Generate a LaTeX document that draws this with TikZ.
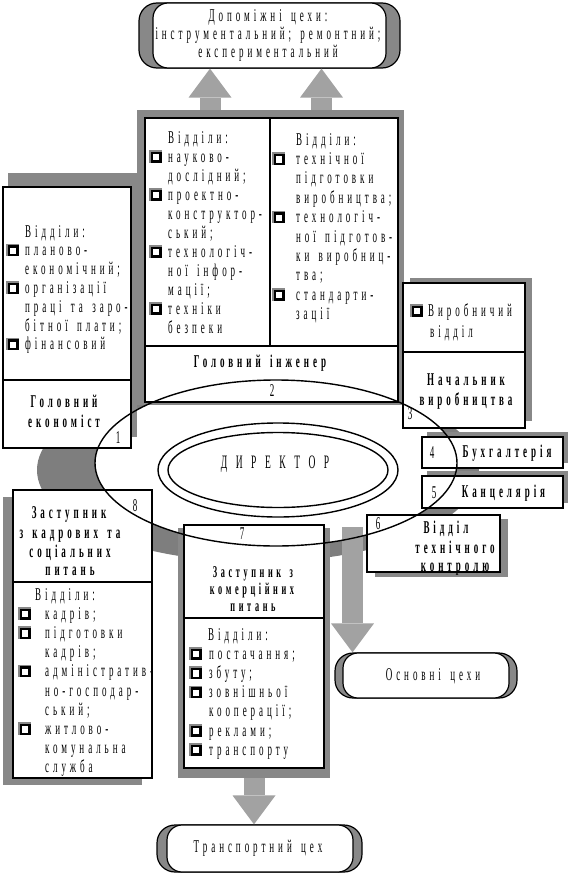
\documentclass[tikz,border=0pt]{standalone}
\usepackage{fontspec}
\setmainfont{Liberation Serif}
\newfontfamily\rf[FakeStretch=0.5,LetterSpace=22,WordSpace=1.5]{Liberation Serif}
\newfontfamily\dirf[FakeStretch=0.5,LetterSpace=45]{Liberation Serif}
\usetikzlibrary{arrows.meta}
\definecolor{sh}{HTML}{888888}
\definecolor{ring}{HTML}{7E7E7E}
\definecolor{ar}{HTML}{A2A2A2}
\begin{document}
\begin{tikzpicture}[x=1pt,y=-1pt,
  txt/.style={inner sep=0pt, font=\rf\fontsize{18}{19}\selectfont},
  btxt/.style={inner sep=0pt, font=\rf\bfseries\fontsize{18}{19}\selectfont},
  sbtxt/.style={inner sep=0pt, font=\rf\bfseries\fontsize{16.5}{17}\selectfont},
  box/.style={draw, line width=1.4pt, fill=white, inner sep=0pt},
  pillout/.style={draw, line width=1.2pt, fill=sh, rounded corners=18pt, inner sep=0pt},
  pillin/.style={draw, line width=1.2pt, fill=white, rounded corners=15pt, inner sep=0pt},
  bigarr/.style={draw=ar, line width=21pt, -{Triangle[length=29pt,width=43pt,line width=0pt,fill=ar]}},
  bul/.pic={\fill[sh] (-7,-7) rectangle (5.5,5.5); \draw[line width=2.4pt, fill=white] (-4.3,-4.3) rectangle (4.3,4.3);},
  sep/.style={line width=1.4pt}
]
\useasboundingbox (0,0) rectangle (571,875);

% grey ring and main ellipse background
\fill[ring] (258,470) ellipse [x radius=221, y radius=92];
\fill[white] (276,463) ellipse [x radius=181, y radius=83];

% top pill
\node[pillout, minimum width=261pt, minimum height=65pt] (topO) at (269.5,35.5) {};
\node[pillin, minimum width=233pt, minimum height=65pt] (top) at (269.5,35.5) {};
\node[txt, anchor=base] (t1) at (268,22) {Допоміжні цехи:};
\node[txt, anchor=base] (t2) at (268,40) {інструментальний; ремонтний;};
\node[txt, anchor=base] (t3) at (268,58) {експериментальний};

% chief engineer box
\fill[sh] (137,110) rectangle (404,405);
\node[box, minimum width=253pt, minimum height=284pt] (eng) at (271.5,260) {};
\draw[sep] (270,118) -- (270,346);
\draw[sep] (145,346) -- (398,346);
\foreach \t [count=\i from 0] in {Відділи:, науково-, дослідний;, проектно-, конструктор-, ський;, технологіч-, ної інфор-, мації;, техніки, безпеки}
  \node[txt, anchor=base west] (el\i) at (168, 143+19*\i) {\t};
\foreach \i in {1,3,6,9} \pic at (156, 138+19*\i) {bul};
\foreach \t [count=\i from 0] in {Відділи:, технічної, підготовки, виробництва;, технологіч-, ної підготов-, ки виробниц-, тва;, стандарти-, зації}
  \node[txt, anchor=base west] (er\i) at (296, 145+19.4*\i) {\t};
\foreach \i in {1,4,8} \pic at (279, 140+19.4*\i) {bul};
\node[btxt, anchor=base] (engt) at (260,367) {Головний інженер};

% chief economist box
\fill[sh] (8,173) rectangle (137,437);
\node[box, minimum width=128pt, minimum height=261pt] (econ) at (67,317.5) {};
\draw[sep] (3,380) -- (131,380);
\foreach \t [count=\i from 0] in {Відділи:, планово-, економічний;, організації, праці та заро-, бітної плати;, фінансовий}
  \node[txt, anchor=base west] (ec\i) at (25, 237+18.8*\i) {\t};
\foreach \i in {1,3,6} \pic at (13, 232+18.8*\i) {bul};
\node[btxt, anchor=base] (econt1) at (64,407) {Головний};
\node[btxt, anchor=base] (econt2) at (64,427) {економіст};

% production head box
\fill[sh] (410,278) rectangle (532,421);
\node[box, minimum width=122pt, minimum height=145pt] (nach) at (464,355.5) {};
\draw[sep] (403,352) -- (525,352);
\pic at (417,311) {bul};
\node[txt, anchor=base west] (na1) at (428,316) {Виробничий};
\node[txt, anchor=base west] (na2) at (430,337) {відділ};
\node[btxt, anchor=base] (nat1) at (466,385) {Начальник};
\node[btxt, anchor=base] (nat2) at (466,405) {виробництва};

% accounting
\fill[sh] (427,432) rectangle (568,463);
\node[box, minimum width=141pt, minimum height=31pt] (buh) at (492.5,452.5) {};
\node[btxt, anchor=base] (buht) at (507,457) {Бухгалтерія};
% office
\fill[sh] (427,471) rectangle (568,503);
\node[box, minimum width=141pt, minimum height=32pt] (kanc) at (492.5,492) {};
\node[btxt, anchor=base] (kanct) at (503.5,497) {Канцелярія};

% technical control
\fill[sh] (375,519) rectangle (508,577);
\node[box, minimum width=133pt, minimum height=57pt] (vtk) at (433.5,543.5) {};
\node[btxt, anchor=base] (vt1) at (446,533) {Відділ};
\node[btxt, anchor=base] (vt2) at (455,553) {технічного};
\node[btxt, anchor=base] (vt3) at (455,571) {контролю};

% commercial deputy
\fill[sh] (178,528) rectangle (330,778);
\node[box, minimum width=140pt, minimum height=243pt] (zk) at (254,646.5) {};
\draw[sep] (184,618) -- (324,618);
\node[sbtxt, anchor=base] (zkt1) at (253,577) {Заступник з};
\node[sbtxt, anchor=base] (zkt2) at (252,594) {комерційних};
\node[sbtxt, anchor=base] (zkt3) at (253,611) {питань};
\node[txt, anchor=base west] (zh) at (208,640) {Відділи:};
\foreach \t [count=\i from 1] in {постачання;, збуту;, зовнішньої, кооперації;, реклами;, транспорту}
  \node[txt, anchor=base west] (zl\i) at (209, 640+19.2*\i) {\t};
\foreach \i in {1,2,3,5,6} \pic at (196, 635+19.2*\i) {bul};

% personnel deputy
\fill[sh] (3,497) rectangle (142,785);
\node[box, minimum width=139pt, minimum height=288pt] (zkad) at (82.5,634) {};
\draw[sep] (13,582) -- (152,582);
\node[btxt, anchor=base] (kt1) at (69,518) {Заступник};
\node[btxt, anchor=base] (kt2) at (70,538) {з кадрових та};
\node[btxt, anchor=base] (kt3) at (70,557) {соціальних};
\node[btxt, anchor=base] (kt4) at (70,575) {питань};
\node[txt, anchor=base west] (kh) at (35,600) {Відділи:};
\foreach \t [count=\i from 1] in {кадрів;, підготовки, кадрів;, адміністратив-, но-господар-, ський;, житлово-, комунальна, служба}
  \node[txt, anchor=base west] (kl\i) at (45, 600+19.2*\i) {\t};
\foreach \i in {1,2,4,7} \pic at (25, 595+19.2*\i) {bul};

% bottom pills
\node[pillout, minimum width=182pt, minimum height=45pt] (osnO) at (426,675.5) {};
\node[pillin, minimum width=166pt, minimum height=45pt] (osn) at (426,675.5) {};
\node[txt, anchor=base] (osnt) at (433,680) {Основні цехи};
\node[pillout, minimum width=205pt, minimum height=47pt] (transO) at (259.5,848.5) {};
\node[pillin, minimum width=186pt, minimum height=47pt] (trans) at (260,848.5) {};
\node[txt, anchor=base] (transt) at (258,852) {Транспортний цех};

% block arrows
\coordinate (a1) at (210,110);
\coordinate (a2) at (321.5,110);
\coordinate (a3) at (352.5,527);
\coordinate (a4) at (254,778);
\draw[bigarr] (a1) -- (a1 |- top.south);
\draw[bigarr] (a2) -- (a2 |- top.south);
\draw[bigarr] (a3) -- (a3 |- osn.north);
\draw[bigarr] (a4) -- (a4 |- trans.north);

% director
\draw[line width=1.4pt, fill=white] (278,470) ellipse [x radius=120, y radius=47];
\draw[line width=1.4pt] (278,470) ellipse [x radius=110, y radius=37.5];
\node[inner sep=0pt, font=\dirf\fontsize{19}{20}\selectfont, anchor=base] (dir) at (275,468) {ДИРЕКТОР};

% main ellipse outline on top
\draw[line width=1.4pt] (276,463) ellipse [x radius=181, y radius=83];

% numbers
\node[txt, anchor=base] (n1) at (118,443) {1};
\node[txt, anchor=base] (n2) at (272,396) {2};
\node[txt, anchor=base] (n3) at (410,419) {3};
\node[txt, anchor=base] (n4) at (432,458) {4};
\node[txt, anchor=base] (n5) at (434,498) {5};
\node[txt, anchor=base] (n6) at (378,529) {6};
\node[txt, anchor=base] (n7) at (242,539) {7};
\node[txt, anchor=base] (n8) at (135,511) {8};
\end{tikzpicture}
\end{document}
